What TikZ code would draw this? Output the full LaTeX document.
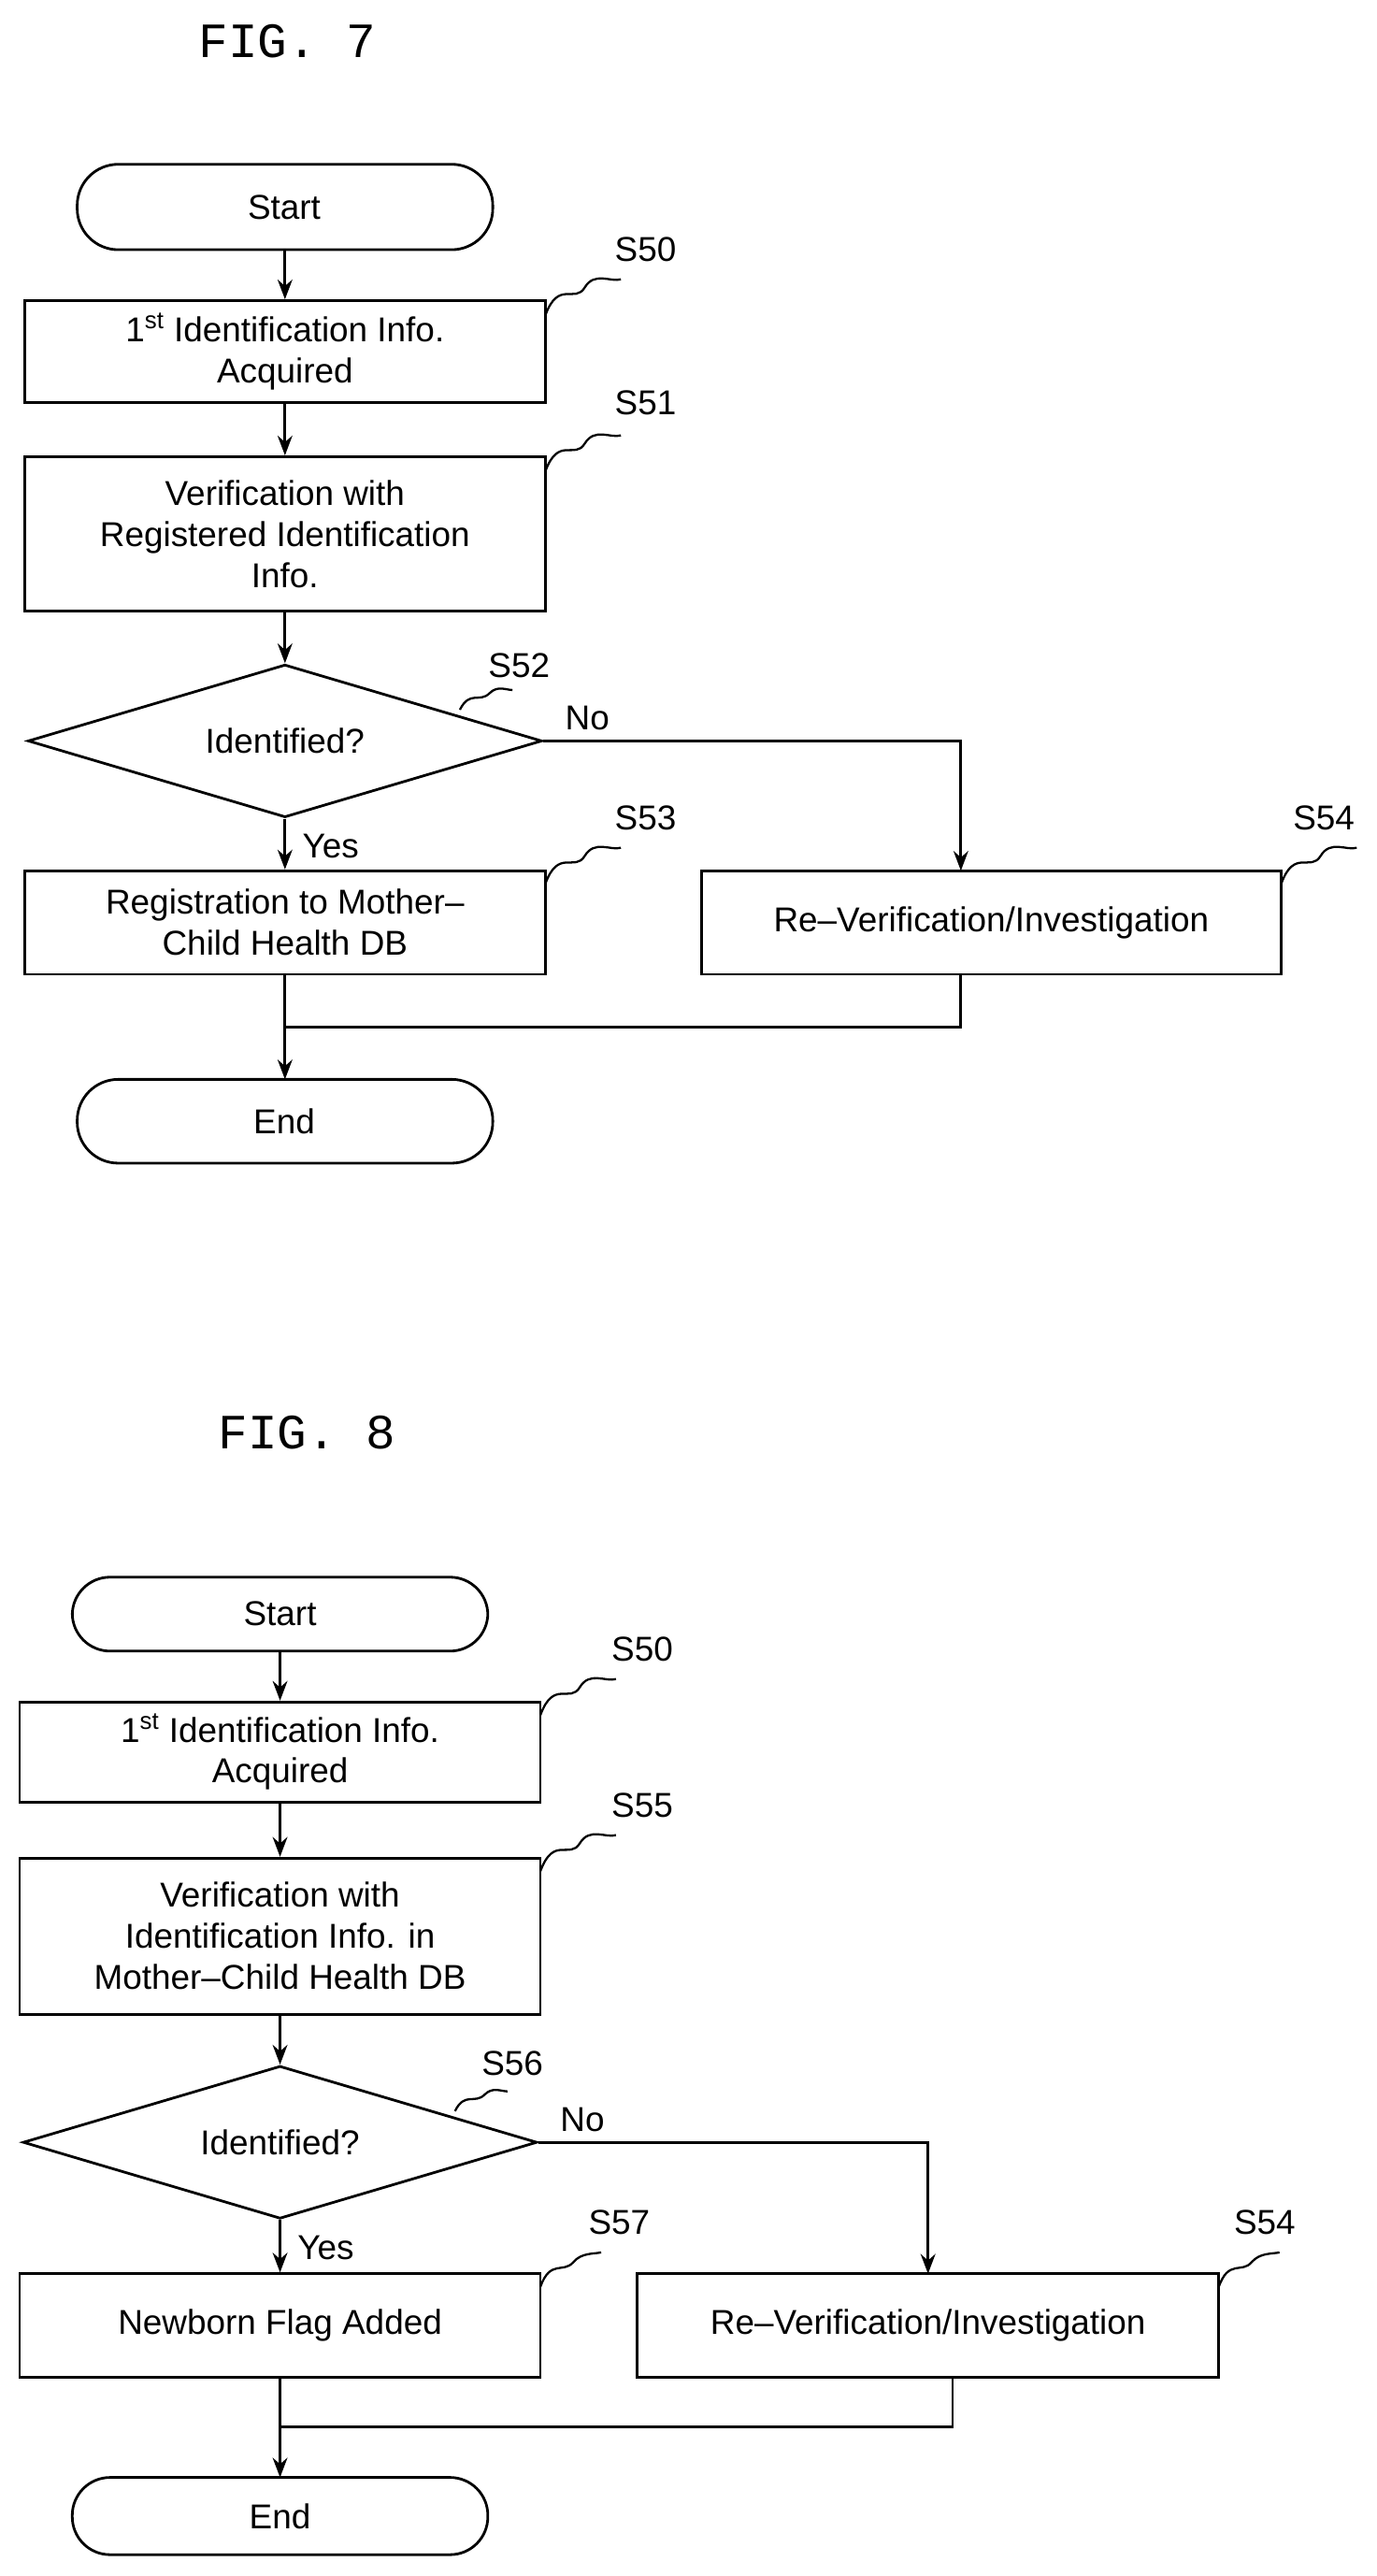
\documentclass[tikz,border=0pt]{standalone}
\usepackage{fontspec}
\setmainfont{Liberation Sans}
\newfontfamily\figfont{Liberation Mono}
\usetikzlibrary{shapes.geometric,arrows.meta}
\begin{document}
\begin{tikzpicture}[x=1pt,y=-1pt,line width=1.6pt,
 every node/.style={font=\fontsize{21}{25}\selectfont},
 box/.style={draw,rectangle,align=center,inner sep=0pt},
 dia/.style={draw,diamond,aspect=3.4,minimum width=313pt,minimum height=93pt,inner sep=0pt},
 arr/.style={-{Stealth[length=12pt,width=9pt]}},
 lab/.style={font=\fontsize{21}{25}\selectfont},
 title/.style={font=\figfont\fontsize{30}{34}\selectfont},
 wav/.style={line width=1.3pt}]
\useasboundingbox (0,0) rectangle (838,1568);
% FIG 7
\node[title] (t7) at (175,25) {FIG. 7};
\draw[rounded corners=25pt] (47,100) rectangle (300,152);
\node (st7) at (173,126) {Start};
\node[box,minimum width=317pt,minimum height=62pt] (a50) at (173.5,214) {1\textsuperscript{st} Identification Info.\\Acquired};
\node[box,minimum width=317pt,minimum height=94pt] (a51) at (173.5,325) {Verification with\\Registered Identification\\Info.};
\node[dia] (a52) at (173.5,451) {Identified?};
\node[box,minimum width=317pt,minimum height=63pt] (a53) at (173.5,561.5) {Registration to Mother--\\Child Health DB};
\node[box,minimum width=353pt,minimum height=63pt] (a54) at (603.5,561.5) {Re--Verification/Investigation};
\draw[rounded corners=25pt] (47,657) rectangle (300,708);
\node (en7) at (173,682.5) {End};
\coordinate (st7b) at (173.5,152);
\coordinate (en7t) at (173.5,657);
\draw[arr] (st7b) -- (a50.north);
\draw[arr] (a50.south) -- (a51.north);
\draw[arr] (a51.south) -- (a52.north);
\draw[arr] (a52.south) -- (a53.north);
\coordinate (n7) at (585,451);
\draw[arr] (a52.east) -- (n7) -- (585,530);
\coordinate (m7) at (585,625);
\draw (585,593) -- (m7) -- (173.5,625);
\draw[arr] (a53.south) -- (en7t);
\node[lab,anchor=west] (no7) at (340,437) {No};
\node[lab,anchor=west] (yes7) at (180,515) {Yes};
\node[lab] (l50) at (393,152) {S50};
\node[lab] (l51) at (393,245) {S51};
\node[lab] (l52) at (316,405) {S52};
\node[lab] (l53) at (393,498) {S53};
\node[lab] (l54) at (806,498) {S54};
\draw[wav] (332,192) .. controls (340,170) and (350,185) .. (356,175) .. controls (362,165) and (372,172) .. (378,170);
\draw[wav] (332,287) .. controls (340,265) and (350,280) .. (356,270) .. controls (362,260) and (372,267) .. (378,265);
\draw[wav] (280,432) .. controls (286,420) and (292,428) .. (298,422) .. controls (303,417) and (308,420) .. (312,420);
\draw[wav] (332,538) .. controls (340,516) and (350,531) .. (356,521) .. controls (362,511) and (372,518) .. (378,516);
\draw[wav] (780,538) .. controls (788,516) and (798,531) .. (804,521) .. controls (810,511) and (820,518) .. (826,516);
% FIG 8
\node[title] (t8) at (187,872) {FIG. 8};
\draw[rounded corners=23pt] (44,960) rectangle (297,1005);
\node (st8) at (170.5,982.5) {Start};
\node[box,minimum width=317pt,minimum height=61pt] (b50) at (170.5,1066.5) {1\textsuperscript{st} Identification Info.\\Acquired};
\node[box,minimum width=317pt,minimum height=95pt] (b55) at (170.5,1178.5) {Verification with\\Identification Info. in\\Mother--Child Health DB};
\node[dia] (b56) at (170.5,1304) {Identified?};
\node[box,minimum width=317pt,minimum height=63pt] (b57) at (170.5,1415.5) {Newborn Flag Added};
\node[box,minimum width=354pt,minimum height=63pt] (b54) at (565,1415.5) {Re--Verification/Investigation};
\draw[rounded corners=23pt] (44,1508) rectangle (297,1555);
\node (en8) at (170.5,1531.5) {End};
\coordinate (st8b) at (170.5,1005);
\coordinate (en8t) at (170.5,1508);
\draw[arr] (st8b) -- (b50.north);
\draw[arr] (b50.south) -- (b55.north);
\draw[arr] (b55.south) -- (b56.north);
\draw[arr] (b56.south) -- (b57.north);
\coordinate (n8) at (565,1304);
\draw[arr] (b56.east) -- (n8) -- (565,1384);
\coordinate (m8) at (580,1477);
\draw (580,1447) -- (m8) -- (170.5,1477);
\draw[arr] (b57.south) -- (en8t);
\node[lab,anchor=west] (no8) at (337,1290) {No};
\node[lab,anchor=west] (yes8) at (177,1368) {Yes};
\node[lab] (m50) at (391,1004) {S50};
\node[lab] (m55) at (391,1099) {S55};
\node[lab] (m56) at (312,1256) {S56};
\node[lab] (m57) at (377,1353) {S57};
\node[lab] (m54) at (770,1353) {S54};
\draw[wav] (329,1044) .. controls (337,1022) and (347,1037) .. (353,1027) .. controls (359,1017) and (369,1024) .. (375,1022);
\draw[wav] (329,1139) .. controls (337,1117) and (347,1132) .. (353,1122) .. controls (359,1112) and (369,1119) .. (375,1117);
\draw[wav] (277,1285) .. controls (283,1273) and (289,1281) .. (295,1275) .. controls (300,1270) and (305,1273) .. (309,1273);
\draw[wav] (329,1392) .. controls (335,1375) and (343,1384) .. (349,1377) .. controls (354,1371) and (362,1372) .. (366,1371);
\draw[wav] (742,1392) .. controls (748,1375) and (756,1384) .. (762,1377) .. controls (767,1371) and (775,1372) .. (779,1371);
\end{tikzpicture}
\end{document}
